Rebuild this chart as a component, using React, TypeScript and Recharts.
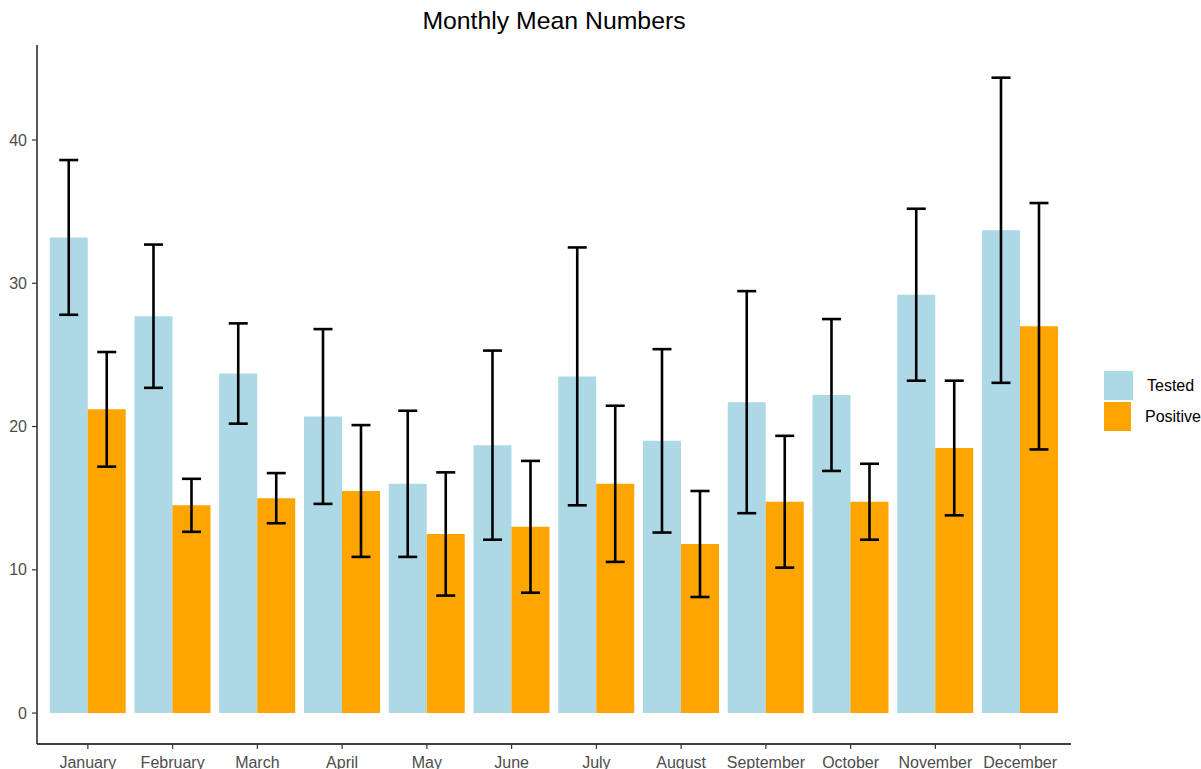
import { Bar, BarChart, ErrorBar, Legend, XAxis, YAxis } from "recharts";

const months = [
  "January", "February", "March", "April", "May", "June",
  "July", "August", "September", "October", "November", "December",
];
const testedMean = [33.2, 27.7, 23.7, 20.7, 16.0, 18.7, 23.5, 19.0, 21.7, 22.2, 29.2, 33.7];
const testedErr = [5.4, 5.0, 3.5, 6.1, 5.1, 6.6, 9.0, 6.4, 7.75, 5.3, 6.0, 10.65];
const positiveMean = [21.2, 14.5, 15.0, 15.5, 12.5, 13.0, 16.0, 11.8, 14.75, 14.75, 18.5, 27.0];
const positiveErr = [4.0, 1.85, 1.75, 4.6, 4.3, 4.6, 5.45, 3.7, 4.6, 2.65, 4.7, 8.6];
const yTicks = [0, 10, 20, 30, 40];

const series = [
  { key: "tested", err: "testedErr", name: "Tested", color: "#ADD8E6" },
  { key: "positive", err: "positiveErr", name: "Positive", color: "#FFA500" },
];

const data = months.map((m, i) => ({
  month: m,
  tested: testedMean[i],
  testedErr: testedErr[i],
  positive: positiveMean[i],
  positiveErr: positiveErr[i],
}));

const FONT = '"Liberation Sans", Arial, sans-serif';

function LegendBox() {
  return (
    <div style={{ paddingLeft: 33, paddingTop: 32, fontFamily: FONT, fontSize: 16, color: "#000" }}>
      {series.map((s) => (
        <div key={s.key} style={{ display: "flex", alignItems: "center", height: 31 }}>
          <div style={{ width: 29, height: 29, background: s.color }} />
          <span style={{ marginLeft: 14, whiteSpace: "nowrap" }}>{s.name}</span>
        </div>
      ))}
    </div>
  );
}

export default function App() {
  return (
    <div style={{ position: "absolute", left: 0, top: 0, width: 1201, height: 769, background: "#fff" }}>
      <div
        style={{
          position: "absolute",
          left: 37,
          width: 1034,
          top: 7,
          textAlign: "center",
          fontFamily: FONT,
          fontSize: 24.8,
          color: "#000",
        }}
      >
        Monthly Mean Numbers
      </div>
      <BarChart
        width={1201}
        height={769}
        data={data}
        margin={{ top: 45, right: 0, bottom: 0, left: 0 }}
        barCategoryGap="5%"
        barGap={0}
      >
        <XAxis
          dataKey="month"
          height={25}
          padding={{ left: 8.5, right: 8.5 }}
          interval={0}
          tickSize={5}
          tickMargin={8}
          tick={{ fill: "#4D4D4D", fontSize: 16, fontFamily: FONT }}
          tickLine={{ stroke: "#333", strokeWidth: 1.2 }}
          axisLine={{ stroke: "#000", strokeWidth: 1.3 }}
        />
        <YAxis
          width={37}
          domain={[-2.16, 46.63]}
          allowDataOverflow
          ticks={yTicks}
          tickSize={5}
          tickMargin={5}
          tick={{ fill: "#4D4D4D", fontSize: 16, fontFamily: FONT }}
          tickLine={{ stroke: "#333", strokeWidth: 1.2 }}
          axisLine={{ stroke: "#000", strokeWidth: 1.3 }}
        />
        <Legend
          layout="vertical"
          align="right"
          verticalAlign="middle"
          width={130}
          wrapperStyle={{ left: 1071, top: 338, width: 130 }}
          content={<LegendBox />}
        />
        {series.map((s) => (
          <Bar key={s.key} dataKey={s.key} name={s.name} fill={s.color} isAnimationActive={false}>
            <ErrorBar dataKey={s.err} width={9.5} stroke="#000" strokeWidth={2.6} />
          </Bar>
        ))}
      </BarChart>
    </div>
  );
}
